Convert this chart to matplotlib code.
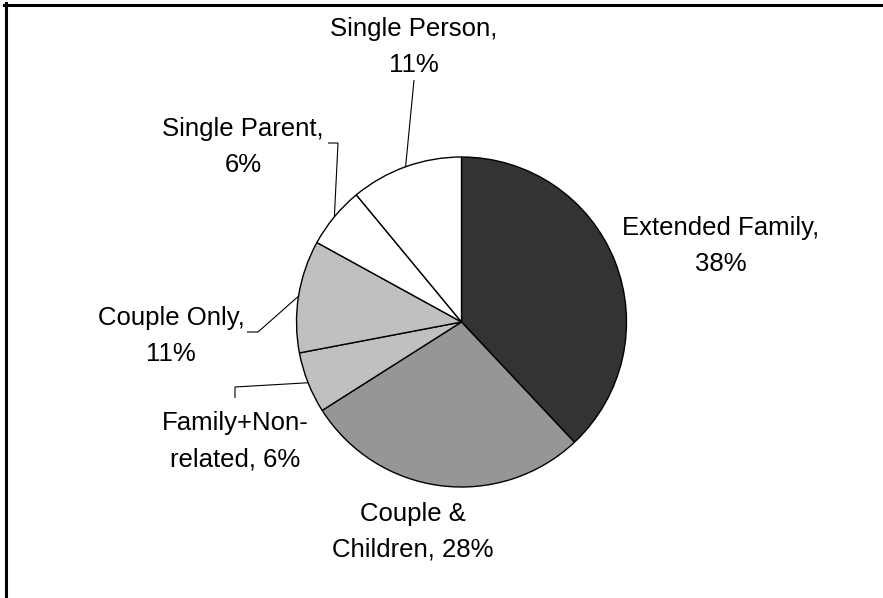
import numpy as np
import matplotlib
matplotlib.use("Agg")
import matplotlib.pyplot as plt
from matplotlib.lines import Line2D

plt.rcParams["font.family"] = ["Liberation Sans", "DejaVu Sans"]

# household types, clockwise from 12 o'clock
categories = ["Extended Family", "Couple & Children", "Family+Non-related",
              "Couple Only", "Single Parent", "Single Person"]
shares = [38, 28, 6, 11, 6, 11]
labels = ["Extended Family,\n38%", "Couple &\nChildren, 28%",
          "Family+Non-\nrelated, 6%", "Couple Only,\n11%",
          "Single Parent,\n6%", "Single Person,\n11%"]
colors = ["#333333", "#969696", "#c0c0c0", "#c0c0c0", "#ffffff", "#ffffff"]

W, H = 883, 598
fig = plt.figure(figsize=(W / 100, H / 100), dpi=100)
fig.patch.set_facecolor("white")
ax = fig.add_axes([0, 0, 1, 1])

cx, cy, r = 461.5, H - 322, 165
wedges, _ = ax.pie(shares, colors=colors, startangle=90, counterclock=False,
                   center=(cx, cy), radius=r,
                   wedgeprops=dict(edgecolor="black", linewidth=1.0))
ax.set_xlim(0, W)
ax.set_ylim(0, H)
ax.axis("off")

# label anchor (x centre, last-line baseline) in pixels from top-left
label_pos = [(721, 271), (413, 557), (235, 466), (171, 361), (243, 172), (414, 72)]
# leader line bends (pixels from top-left), None = no leader
leaders = [None, None, [(235, 387), (235, 398)], [(258, 332), (247, 332)],
           [(338, 143), (328, 143)], [(414, 80)]]

for w, lab, (lx, ly), bend in zip(wedges, labels, label_pos, leaders):
    ax.text(lx, H - ly, lab, ha="center", va="baseline", fontsize=18.5,
            linespacing=1.62, multialignment="center")
    if bend is None:
        continue
    mid = np.deg2rad((w.theta1 + w.theta2) / 2)
    xs = [cx + r * np.cos(mid)] + [p[0] for p in bend]
    ys = [cy + r * np.sin(mid)] + [H - p[1] for p in bend]
    ax.plot(xs, ys, color="black", lw=0.8, solid_capstyle="butt")

# frame lines at the top and left edge
fig.add_artist(Line2D([4 / W, 1], [1 - 4.5 / H, 1 - 4.5 / H], color="black",
                      lw=2.2, transform=fig.transFigure))
fig.add_artist(Line2D([5.5 / W, 5.5 / W], [0, 1 - 3 / H], color="black",
                      lw=2.2, transform=fig.transFigure))

fig.savefig("out.png", dpi=100)
